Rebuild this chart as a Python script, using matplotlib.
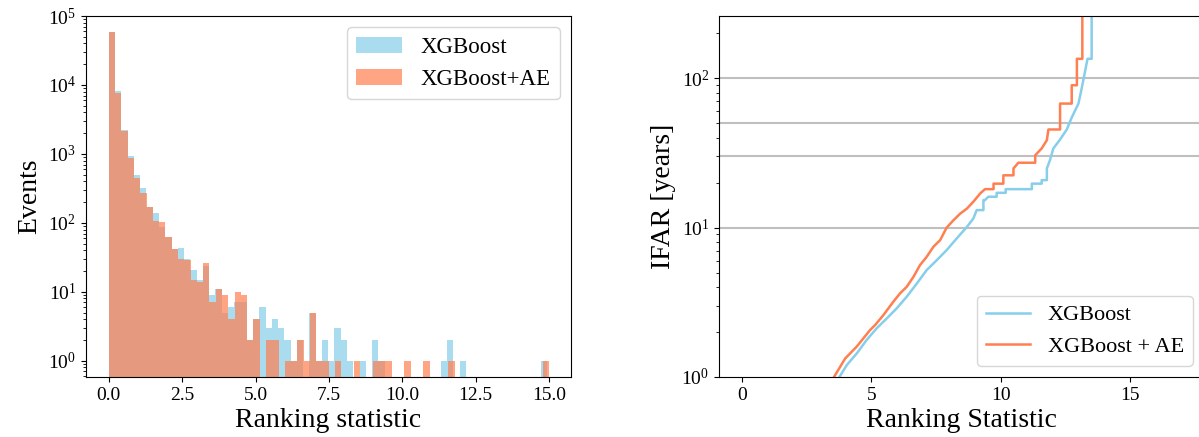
import numpy as np
import matplotlib
matplotlib.use("Agg")
import matplotlib.pyplot as plt

plt.rcParams['font.family'] = ['Liberation Serif', 'DejaVu Serif']
plt.rcParams['mathtext.fontset'] = 'stix'

# histogram: 70 bins between 0 and 15
n_bins = 70
xgb_max = 14.95
xgb_ae_max = 15.0
xgb_counts = [58000, 8300, 2210, 945, 490, 321, 172, 138, 88, 62,
              42, 43, 30, 21, 15, 24, 9, 11, 5, 6,
              7, 7, 2, 4, 6, 3, 4, 3, 2, 1,
              2, 0, 5, 1, 2, 1, 3, 2, 1, 0,
              1, 0, 2, 1, 0, 0, 0, 0, 0, 0,
              0, 0, 0, 1, 2, 0, 1, 0, 0, 0,
              0, 0, 0, 0, 0, 0, 0, 0, 0, 1]
xgb_ae_counts = [58400, 7600, 2135, 884, 449, 275, 172, 105, 102, 62,
                 42, 30, 29, 15, 14, 26, 7, 11, 9, 4,
                 10, 9, 2, 4, 0, 2, 2, 0, 1, 1,
                 2, 1, 5, 1, 1, 0, 1, 0, 0, 1,
                 0, 0, 1, 1, 1, 0, 0, 1, 0, 0,
                 1, 0, 0, 0, 1, 0, 0, 0, 0, 0,
                 0, 0, 0, 0, 0, 0, 0, 0, 0, 1]

# IFAR curves (ranking statistic, IFAR in years)
xgb_stat = [3.77, 4.05, 4.44, 4.82, 5.21, 5.60, 5.98, 6.37, 6.76, 7.14,
            7.53, 7.91, 8.30, 8.69, 8.94, 9.07, 9.33, 9.33, 9.39, 9.52,
            9.84, 9.84, 10.19, 10.19, 11.20, 11.20, 11.58, 11.58, 11.78, 11.78,
            11.90, 12.03, 12.29, 12.55, 12.74, 13.00, 13.15, 13.35, 13.51, 13.51]
xgb_ifar = [1.0, 1.2, 1.44, 1.77, 2.12, 2.47, 2.88, 3.45, 4.23, 5.2,
            6.06, 7.07, 8.47, 10.1, 11.5, 13.1, 13.1, 15.3, 15.3, 16.1,
            16.1, 17.1, 17.1, 18.1, 18.1, 19.7, 19.7, 20.8, 20.8, 24.9,
            28.3, 33.9, 38.9, 45.4, 54.6, 67.7, 89.8, 135, 135, 1000]
ae_stat = [3.56, 3.99, 4.44, 4.95, 5.15, 5.47, 5.85, 6.11, 6.37, 6.63,
           6.88, 7.14, 7.40, 7.66, 7.91, 8.17, 8.43, 8.69, 8.94, 9.20,
           9.39, 9.72, 9.72, 10.10, 10.10, 10.49, 10.49, 10.68, 11.33, 11.33,
           11.58, 11.78, 11.84, 12.29, 12.29, 12.74, 12.74, 12.94, 12.94, 13.15,
           13.15]
ae_ifar = [1.0, 1.33, 1.6, 2.06, 2.23, 2.6, 3.19, 3.63, 4.02, 4.69,
           5.61, 6.38, 7.45, 8.25, 10.0, 11.2, 12.4, 13.4, 14.9, 16.9,
           18.1, 18.1, 19.7, 19.7, 22.4, 22.4, 24.9, 27.2, 27.2, 30.5,
           33.9, 38.5, 45.4, 45.4, 67.7, 67.7, 89.8, 89.8, 135, 135,
           1000]
ifar_levels = [10, 30, 50, 100]

fig = plt.figure(figsize=(11.99, 4.37), dpi=100)
ax1 = fig.add_axes([0.0717, 0.1373, 0.4045, 0.826])
ax2 = fig.add_axes([0.5997, 0.1373, 0.4045, 0.826])

edges_a = np.linspace(0, xgb_max, n_bins + 1)
edges_b = np.linspace(0, xgb_ae_max, n_bins + 1)
ax1.hist(edges_a[:-1], bins=edges_a, weights=xgb_counts, color='skyblue',
         alpha=0.7, log=True, label='XGBoost')
ax1.hist(edges_b[:-1], bins=edges_b, weights=xgb_ae_counts, color='coral',
         alpha=0.7, log=True, label='XGBoost+AE')
ax1.set_xlim(-0.78, 15.75)
ax1.set_ylim(0.58, 1e5)
ax1.set_xlabel('Ranking statistic', fontsize=20, labelpad=3)
ax1.set_ylabel('Events', fontsize=20)
ax1.tick_params(labelsize=14)
ax1.legend(loc='upper right', fontsize=16.5)

for lvl in ifar_levels:
    ax2.axhline(lvl, color='gray', alpha=0.5, lw=1.5)
ax2.plot(xgb_stat, xgb_ifar, color='skyblue', lw=1.8, label='XGBoost')
ax2.plot(ae_stat, ae_ifar, color='coral', lw=1.8, label='XGBoost + AE')
ax2.set_yscale('log')
ax2.set_xlim(-0.88, 17.85)
ax2.set_ylim(1, 261)
ax2.set_xticks([0, 5, 10, 15])
ax2.set_xlabel('Ranking Statistic', fontsize=20, labelpad=3)
ax2.set_ylabel('IFAR [years]', fontsize=20)
ax2.tick_params(labelsize=14)
ax2.legend(loc='lower right', fontsize=16)

fig.savefig('out.png', dpi=100)
